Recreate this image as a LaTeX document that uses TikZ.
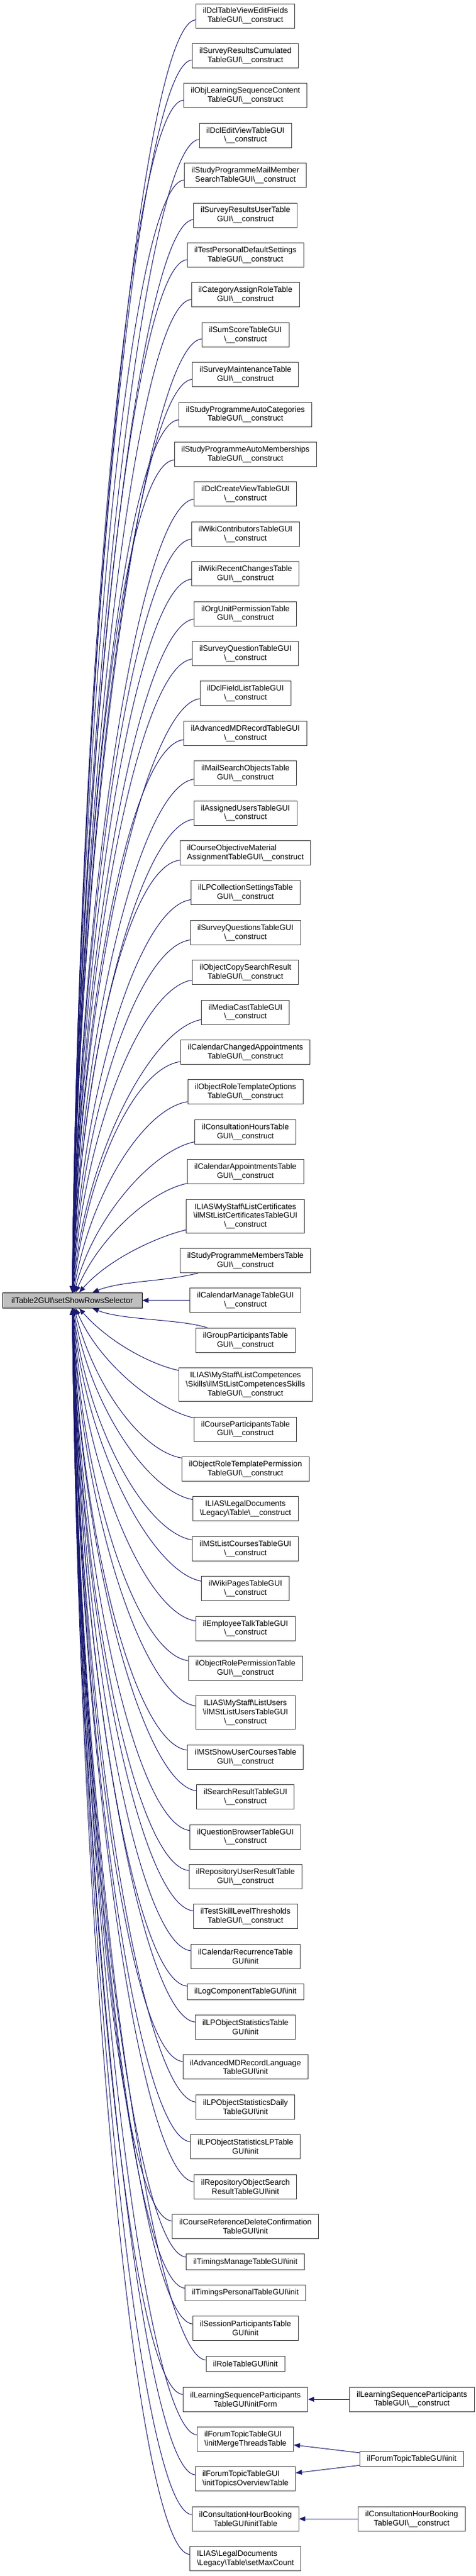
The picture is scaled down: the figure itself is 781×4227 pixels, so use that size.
\documentclass[tikz,border=0pt]{standalone}
\usepackage{fontspec}
\setmainfont{Liberation Sans}
\usepackage{tikz}
\usetikzlibrary{arrows.meta,calc}

\definecolor{edgeblue}{HTML}{191970}
\definecolor{boxgrey}{HTML}{404040}
\definecolor{maingrey}{HTML}{BFBFBF}

\newcommand{\bsl}{\textbackslash}
% caller edge into the main node: #1 node name, #2 centre y
\newcommand{\callline}[2]{%
  \pgfmathsetmacro{\cdy}{abs(#2-2133.8)}%
  \pgfmathsetmacro{\cpx}{129+100*exp(-\cdy/200)}%
  \pgfmathsetmacro{\cpk}{90*(1-exp(-\cdy/200))}%
  \pgfmathsetmacro{\cpm}{(12+25*exp(-\cdy/800))*sign(2133.8-#2)}%
  \pgfmathsetmacro{\cpy}{(#2+2133.8)/2}%
  \draw[call] (main) .. controls (\cpx,\cpy) and ($(#1.west)+(-\cpk,\cpm)$) .. (#1);%
}

\begin{document}
\begin{tikzpicture}[x=1pt, y=-1pt, >={Triangle[length=10pt,width=8pt]},
    call/.style={draw=edgeblue, line width=1pt, <-},
    fnode/.style={draw=boxgrey, fill=white, line width=1pt, align=center,
      inner xsep=11.5pt, inner ysep=2pt, font=\fontsize{12.9}{14.8}\selectfont},
    fnode1/.style={fnode, minimum height=25.5pt},
    fnode2/.style={fnode, minimum height=40pt},
    fnode3/.style={fnode, minimum height=55pt},
    mainnode/.style={draw=black, fill=maingrey, line width=1pt, minimum width=229pt,
      minimum height=25.5pt, inner sep=2pt, font=\fontsize{12.9}{14.8}\selectfont}]
    \useasboundingbox (0,0) rectangle (781,4227);

    \node[mainnode] (main) at (118.5,2133.8) {ilTable2GUI\bsl setShowRowsSelector};

    % callers
    \node[fnode2] (dclTableView) at (402.7,26) {ilDclTableViewEditFields\\TableGUI\bsl\_\_construct};
    \node[fnode2] (svyCumulated) at (402.7,91.4) {ilSurveyResultsCumulated\\TableGUI\bsl\_\_construct};
    \node[fnode2] (lsoContent) at (402.7,156.8) {ilObjLearningSequenceContent\\TableGUI\bsl\_\_construct};
    \node[fnode2] (dclEditView) at (402.7,222.2) {ilDclEditViewTableGUI\\\bsl\_\_construct};
    \node[fnode2] (prgMailSearch) at (402.7,287.6) {ilStudyProgrammeMailMember\\SearchTableGUI\bsl\_\_construct};
    \node[fnode2] (svyUser) at (402.7,353.0) {ilSurveyResultsUserTable\\GUI\bsl\_\_construct};
    \node[fnode2] (tstDefaults) at (402.7,418.4) {ilTestPersonalDefaultSettings\\TableGUI\bsl\_\_construct};
    \node[fnode2] (catRole) at (402.7,483.8) {ilCategoryAssignRoleTable\\GUI\bsl\_\_construct};
    \node[fnode2] (sumScore) at (402.7,549.2) {ilSumScoreTableGUI\\\bsl\_\_construct};
    \node[fnode2] (svyMaint) at (402.7,614.6) {ilSurveyMaintenanceTable\\GUI\bsl\_\_construct};
    \node[fnode2] (prgAutoCat) at (402.7,680.0) {ilStudyProgrammeAutoCategories\\TableGUI\bsl\_\_construct};
    \node[fnode2] (prgAutoMem) at (402.7,745.4) {ilStudyProgrammeAutoMemberships\\TableGUI\bsl\_\_construct};
    \node[fnode2] (dclCreateView) at (402.7,810.8) {ilDclCreateViewTableGUI\\\bsl\_\_construct};
    \node[fnode2] (wikiContrib) at (402.7,876.2) {ilWikiContributorsTableGUI\\\bsl\_\_construct};
    \node[fnode2] (wikiRecent) at (402.7,941.6) {ilWikiRecentChangesTable\\GUI\bsl\_\_construct};
    \node[fnode2] (orguPerm) at (402.7,1007.0) {ilOrgUnitPermissionTable\\GUI\bsl\_\_construct};
    \node[fnode2] (svyQuestion) at (402.7,1072.4) {ilSurveyQuestionTableGUI\\\bsl\_\_construct};
    \node[fnode2] (dclFieldList) at (402.7,1137.8) {ilDclFieldListTableGUI\\\bsl\_\_construct};
    \node[fnode2] (amdRecord) at (402.7,1203.2) {ilAdvancedMDRecordTableGUI\\\bsl\_\_construct};
    \node[fnode2] (mailSearchObj) at (402.7,1268.6) {ilMailSearchObjectsTable\\GUI\bsl\_\_construct};
    \node[fnode2] (assignedUsers) at (402.7,1334.0) {ilAssignedUsersTableGUI\\\bsl\_\_construct};
    \node[fnode2, align=left] (crsObjMaterial) at (402.7,1399.4) {ilCourseObjectiveMaterial\\AssignmentTableGUI\bsl\_\_construct};
    \node[fnode2] (lpCollection) at (402.7,1464.8) {ilLPCollectionSettingsTable\\GUI\bsl\_\_construct};
    \node[fnode2] (svyQuestions) at (402.7,1530.2) {ilSurveyQuestionsTableGUI\\\bsl\_\_construct};
    \node[fnode2] (copySearch) at (402.7,1595.6) {ilObjectCopySearchResult\\TableGUI\bsl\_\_construct};
    \node[fnode2] (mediaCast) at (402.7,1661.0) {ilMediaCastTableGUI\\\bsl\_\_construct};
    \node[fnode2] (calChanged) at (402.7,1726.4) {ilCalendarChangedAppointments\\TableGUI\bsl\_\_construct};
    \node[fnode2] (roleTplOptions) at (402.7,1791.8) {ilObjectRoleTemplateOptions\\TableGUI\bsl\_\_construct};
    \node[fnode2] (consultHours) at (402.7,1857.2) {ilConsultationHoursTable\\GUI\bsl\_\_construct};
    \node[fnode2] (calAppointments) at (402.7,1922.6) {ilCalendarAppointmentsTable\\GUI\bsl\_\_construct};
    \node[fnode3] (mstCertificates) at (402.7,1995.5) {ILIAS\bsl MyStaff\bsl ListCertificates\\\bsl ilMStListCertificatesTableGUI\\\bsl\_\_construct};
    \node[fnode2] (prgMembers) at (402.7,2068.4) {ilStudyProgrammeMembersTable\\GUI\bsl\_\_construct};
    \node[fnode2] (calManage) at (402.7,2133.8) {ilCalendarManageTableGUI\\\bsl\_\_construct};
    \node[fnode2] (grpParticipants) at (402.7,2199.2) {ilGroupParticipantsTable\\GUI\bsl\_\_construct};
    \node[fnode3] (mstCompetences) at (402.7,2272.1) {ILIAS\bsl MyStaff\bsl ListCompetences\\\bsl Skills\bsl ilMStListCompetencesSkills\\TableGUI\bsl\_\_construct};
    \node[fnode2] (crsParticipants) at (402.7,2345.0) {ilCourseParticipantsTable\\GUI\bsl\_\_construct};
    \node[fnode2] (roleTplPerm) at (402.7,2410.4) {ilObjectRoleTemplatePermission\\TableGUI\bsl\_\_construct};
    \node[fnode2] (legacyTable) at (402.7,2475.8) {ILIAS\bsl LegalDocuments\\\bsl Legacy\bsl Table\bsl\_\_construct};
    \node[fnode2] (mstCourses) at (402.7,2541.2) {ilMStListCoursesTableGUI\\\bsl\_\_construct};
    \node[fnode2] (wikiPages) at (402.7,2606.6) {ilWikiPagesTableGUI\\\bsl\_\_construct};
    \node[fnode2] (talkTable) at (402.7,2672.0) {ilEmployeeTalkTableGUI\\\bsl\_\_construct};
    \node[fnode2] (rolePerm) at (402.7,2737.4) {ilObjectRolePermissionTable\\GUI\bsl\_\_construct};
    \node[fnode3] (mstUsers) at (402.7,2810.3) {ILIAS\bsl MyStaff\bsl ListUsers\\\bsl ilMStListUsersTableGUI\\\bsl\_\_construct};
    \node[fnode2] (mstUserCourses) at (402.7,2883.2) {ilMStShowUserCoursesTable\\GUI\bsl\_\_construct};
    \node[fnode2] (searchResult) at (402.7,2948.6) {ilSearchResultTableGUI\\\bsl\_\_construct};
    \node[fnode2] (qstBrowser) at (402.7,3014.0) {ilQuestionBrowserTableGUI\\\bsl\_\_construct};
    \node[fnode2] (repoUserResult) at (402.7,3079.4) {ilRepositoryUserResultTable\\GUI\bsl\_\_construct};
    \node[fnode2] (skillThresholds) at (402.7,3144.8) {ilTestSkillLevelThresholds\\TableGUI\bsl\_\_construct};
    \node[fnode2] (calRecurrence) at (402.7,3210.2) {ilCalendarRecurrenceTable\\GUI\bsl init};
    \node[fnode1] (logComponent) at (402.7,3268.4) {ilLogComponentTableGUI\bsl init};
    \node[fnode2] (lpObjStats) at (402.7,3326.5) {ilLPObjectStatisticsTable\\GUI\bsl init};
    \node[fnode2] (amdRecordLang) at (402.7,3391.9) {ilAdvancedMDRecordLanguage\\TableGUI\bsl init};
    \node[fnode2] (lpStatsDaily) at (402.7,3457.3) {ilLPObjectStatisticsDaily\\TableGUI\bsl init};
    \node[fnode2] (lpStatsLP) at (402.7,3522.7) {ilLPObjectStatisticsLPTable\\GUI\bsl init};
    \node[fnode2] (repoObjSearch) at (402.7,3588.1) {ilRepositoryObjectSearch\\ResultTableGUI\bsl init};
    \node[fnode2] (crsRefDelete) at (402.7,3653.5) {ilCourseReferenceDeleteConfirmation\\TableGUI\bsl init};
    \node[fnode1] (timingsManage) at (402.7,3711.7) {ilTimingsManageTableGUI\bsl init};
    \node[fnode1] (timingsPersonal) at (402.7,3762.6) {ilTimingsPersonalTableGUI\bsl init};
    \node[fnode2] (sessParticipants) at (402.7,3820.7) {ilSessionParticipantsTable\\GUI\bsl init};
    \node[fnode1] (roleTable) at (402.7,3878.9) {ilRoleTableGUI\bsl init};
    \node[fnode2] (lsoInitForm) at (402.7,3937.0) {ilLearningSequenceParticipants\\TableGUI\bsl initForm};
    \node[fnode2, align=left] (frmMerge) at (402.7,4002.4) {ilForumTopicTableGUI\\\bsl initMergeThreadsTable};
    \node[fnode2, align=left] (frmOverview) at (402.7,4067.8) {ilForumTopicTableGUI\\\bsl initTopicsOverviewTable};
    \node[fnode2] (chbInitTable) at (402.7,4133.2) {ilConsultationHourBooking\\TableGUI\bsl initTable};
    \node[fnode2, align=left] (legacyMaxCount) at (402.7,4198.6) {ILIAS\bsl LegalDocuments\\\bsl Legacy\bsl Table\bsl setMaxCount};

    % callers of the callers
    \node[fnode2] (lsoConstruct) at (675.8,3937.0) {ilLearningSequenceParticipants\\TableGUI\bsl\_\_construct};
    \node[fnode1] (frmInit) at (675.5,4035.0) {ilForumTopicTableGUI\bsl init};
    \node[fnode2] (chbConstruct) at (675.5,4133.2) {ilConsultationHourBooking\\TableGUI\bsl\_\_construct};

    \callline{dclTableView}{26}
    \callline{svyCumulated}{91.4}
    \callline{lsoContent}{156.8}
    \callline{dclEditView}{222.2}
    \callline{prgMailSearch}{287.6}
    \callline{svyUser}{353.0}
    \callline{tstDefaults}{418.4}
    \callline{catRole}{483.8}
    \callline{sumScore}{549.2}
    \callline{svyMaint}{614.6}
    \callline{prgAutoCat}{680.0}
    \callline{prgAutoMem}{745.4}
    \callline{dclCreateView}{810.8}
    \callline{wikiContrib}{876.2}
    \callline{wikiRecent}{941.6}
    \callline{orguPerm}{1007.0}
    \callline{svyQuestion}{1072.4}
    \callline{dclFieldList}{1137.8}
    \callline{amdRecord}{1203.2}
    \callline{mailSearchObj}{1268.6}
    \callline{assignedUsers}{1334.0}
    \callline{crsObjMaterial}{1399.4}
    \callline{lpCollection}{1464.8}
    \callline{svyQuestions}{1530.2}
    \callline{copySearch}{1595.6}
    \callline{mediaCast}{1661.0}
    \callline{calChanged}{1726.4}
    \callline{roleTplOptions}{1791.8}
    \callline{consultHours}{1857.2}
    \callline{calAppointments}{1922.6}
    \callline{mstCertificates}{1995.5}
    \callline{prgMembers}{2068.4}
    \draw[call] (main) -- (calManage);
    \callline{grpParticipants}{2199.2}
    \callline{mstCompetences}{2272.1}
    \callline{crsParticipants}{2345.0}
    \callline{roleTplPerm}{2410.4}
    \callline{legacyTable}{2475.8}
    \callline{mstCourses}{2541.2}
    \callline{wikiPages}{2606.6}
    \callline{talkTable}{2672.0}
    \callline{rolePerm}{2737.4}
    \callline{mstUsers}{2810.3}
    \callline{mstUserCourses}{2883.2}
    \callline{searchResult}{2948.6}
    \callline{qstBrowser}{3014.0}
    \callline{repoUserResult}{3079.4}
    \callline{skillThresholds}{3144.8}
    \callline{calRecurrence}{3210.2}
    \callline{logComponent}{3268.4}
    \callline{lpObjStats}{3326.5}
    \callline{amdRecordLang}{3391.9}
    \callline{lpStatsDaily}{3457.3}
    \callline{lpStatsLP}{3522.7}
    \callline{repoObjSearch}{3588.1}
    \callline{crsRefDelete}{3653.5}
    \callline{timingsManage}{3711.7}
    \callline{timingsPersonal}{3762.6}
    \callline{sessParticipants}{3820.7}
    \callline{roleTable}{3878.9}
    \callline{lsoInitForm}{3937.0}
    \callline{frmMerge}{4002.4}
    \callline{frmOverview}{4067.8}
    \callline{chbInitTable}{4133.2}
    \callline{legacyMaxCount}{4198.6}

    \draw[call] (lsoInitForm) -- (lsoConstruct);
    \draw[call] (frmMerge) -- (frmInit);
    \draw[call] (frmOverview) -- (frmInit);
    \draw[call] (chbInitTable) -- (chbConstruct);
\end{tikzpicture}
\end{document}
